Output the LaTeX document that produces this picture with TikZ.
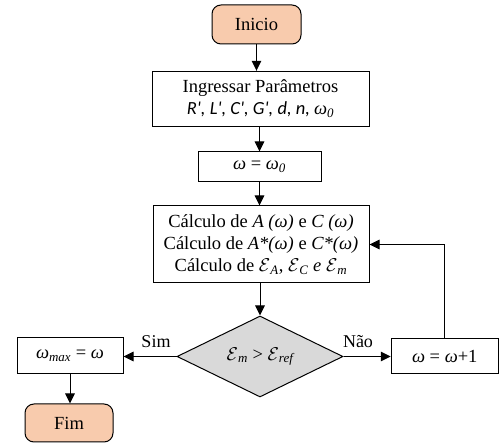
\RequirePackage{fix-cm}
\documentclass[tikz,border=0pt]{standalone}
\usepackage{fontspec}
\setmainfont{Liberation Serif}
\newfontfamily\carl{Carlito}
\usetikzlibrary{shapes.geometric,arrows.meta}
\definecolor{peach}{HTML}{F8CBAD}
\definecolor{lgray}{HTML}{D9D9D9}
\newcommand{\wom}{\textit{ω}}
\newcommand{\lowsub}[1]{\textsubscript{\itshape #1}}
\newcommand{\scE}{\ensuremath{\mathcal{E}}}
\begin{document}
\begin{tikzpicture}[x=1pt,y=-1pt,
  box/.style={draw=black, line width=1pt, inner sep=0pt, align=center,
    font=\fontsize{18.5}{22}\selectfont},
  term/.style={box, rounded corners=9pt, fill=peach},
  decision/.style={box, diamond, aspect=2, fill=lgray},
  conn/.style={line width=1pt, -{Triangle[length=10pt,width=9.5pt]}},
  lbl/.style={font=\fontsize{18}{22}\selectfont, inner sep=0pt, anchor=base}]
\useasboundingbox (0,0) rectangle (499,443);
\node[term, minimum width=89pt, minimum height=39pt] (inicio) at (256.5,24.5) {Inicio};
\node[box, minimum width=217pt, minimum height=55pt] (ingr) at (260.5,98.8)
  {Ingressar Parâmetros\\{\carl\itshape R\textquotesingle, L\textquotesingle, C\textquotesingle, G\textquotesingle, d, n, }\wom\lowsub{0}};
\node[box, minimum width=123pt, minimum height=30pt] (w0) at (259.5,167) {\wom{} = \wom\lowsub{0}};
\node[box, minimum width=216pt, minimum height=77pt] (calc) at (261,244.5)
  {Cálculo de \textit{A (ω)} e \textit{C (ω)}\\
   Cálculo de \textit{A*(ω)} e \textit{C*(ω)}\\
   Cálculo de \scE\lowsub{A}, \scE\lowsub{C} \textit{e} \scE\lowsub{m}};
\node[decision, minimum width=166pt, minimum height=81pt] (dec) at (260,356.5)
  {\scE\lowsub{m} > \scE\lowsub{ref}};
\node[box, minimum width=106pt, minimum height=36pt] (wmax) at (70,356) {\wom\lowsub{max} = \wom};
\node[term, minimum width=88pt, minimum height=38pt] (fim) at (69,423) {Fim};
\node[box, minimum width=107pt, minimum height=35pt] (wp1) at (444.75,356.5) {\wom{} = \wom+1};
\draw[conn] (inicio.south) -- (inicio.south |- ingr.north);
\draw[conn] (ingr.south -| w0.north) -- (w0.north);
\draw[conn] (w0.south) -- (w0.south |- calc.north);
\draw[conn] (calc.south -| dec.north) -- (dec.north);
\draw[conn] (dec.west) -- (dec.west -| wmax.east);
\draw[conn] (dec.east) -- (dec.east -| wp1.west);
\draw[conn] (wp1.north) |- (calc.east);
\draw[conn] (wmax.south) -- (wmax.south |- fim.north);
\node[lbl] (sim) at (156,348) {Sim};
\node[lbl] (nao) at (358,348) {Não};
\end{tikzpicture}
\end{document}
